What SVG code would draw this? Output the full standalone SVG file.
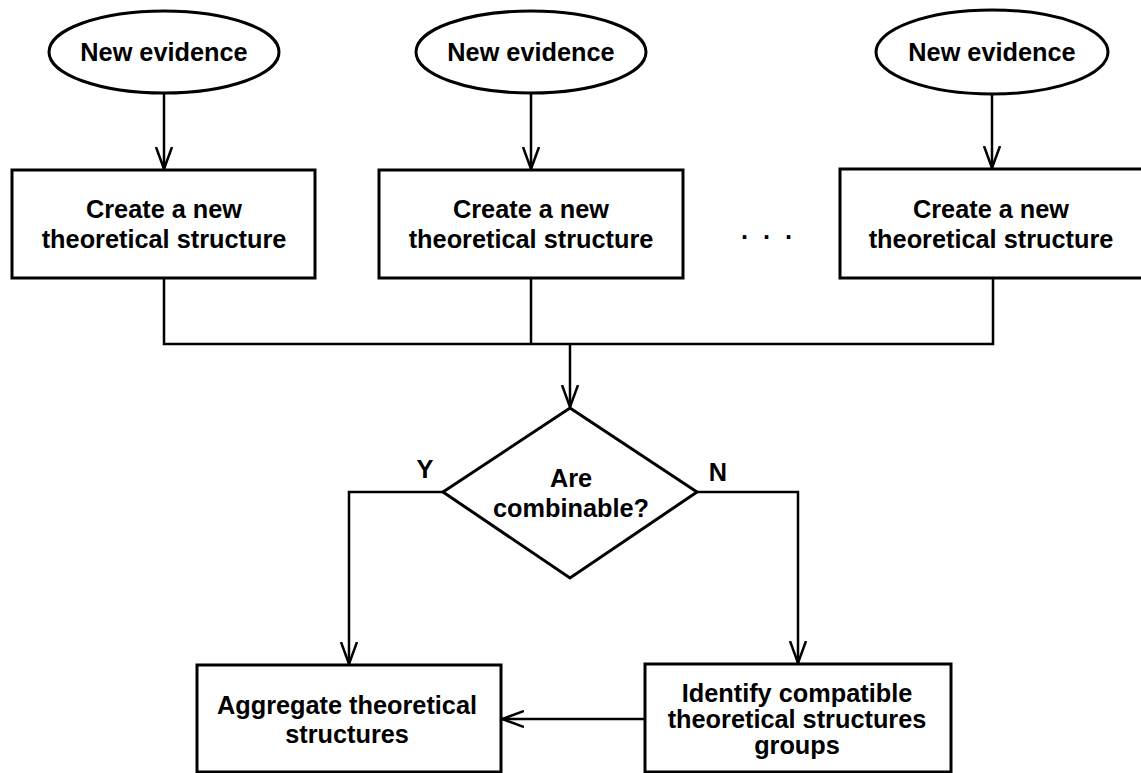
<svg xmlns="http://www.w3.org/2000/svg" width="1141" height="773" viewBox="0 0 1141 773">
  <style>
    .shape { fill: #ffffff; stroke: #000000; stroke-width: 3; }
    .wire { fill: none; stroke: #000000; stroke-width: 2.5; }
    .lbl { font-family: "Liberation Sans", Arial, sans-serif; font-weight: bold; font-size: 25.3px; fill: #000000; text-anchor: middle; dominant-baseline: central; }
  </style>
  <defs>
    <marker id="arrow" markerUnits="userSpaceOnUse" viewBox="0 0 24 18" refX="22" refY="9" markerWidth="24" markerHeight="18" orient="auto">
      <path d="M0,1 L22,9 L0,17" fill="none" stroke="#000000" stroke-width="2.5"/>
    </marker>
  </defs>
  <rect width="1141" height="773" fill="#ffffff"/>

  <!-- connectors -->
  <g id="connectors">
    <line class="wire" x1="164" y1="94" x2="164" y2="169" marker-end="url(#arrow)"/>
    <line class="wire" x1="531" y1="94" x2="531" y2="169" marker-end="url(#arrow)"/>
    <line class="wire" x1="992" y1="95" x2="992" y2="168" marker-end="url(#arrow)"/>
    <polyline class="wire" points="164,279 164,344 993,344 993,279"/>
    <line class="wire" x1="531" y1="279" x2="531" y2="344"/>
    <line class="wire" x1="570" y1="344" x2="570" y2="407" marker-end="url(#arrow)"/>
    <polyline class="wire" points="443,492 349,492 349,664" marker-end="url(#arrow)"/>
    <polyline class="wire" points="697,492 798,492 798,663" marker-end="url(#arrow)"/>
    <line class="wire" x1="645" y1="719" x2="502" y2="719" marker-end="url(#arrow)"/>
  </g>

  <g id="evidence-1">
    <ellipse class="shape" cx="164" cy="52" rx="115" ry="41"/>
    <text class="lbl" x="164" y="52">New evidence</text>
  </g>
  <g id="evidence-2">
    <ellipse class="shape" cx="531" cy="52" rx="115" ry="41"/>
    <text class="lbl" x="531" y="52">New evidence</text>
  </g>
  <g id="evidence-3">
    <ellipse class="shape" cx="992" cy="52" rx="116" ry="42"/>
    <text class="lbl" x="992" y="52">New evidence</text>
  </g>

  <g id="create-1">
    <rect class="shape" x="12" y="170" width="303" height="108"/>
    <text class="lbl" x="164" y="209">Create a new</text>
    <text class="lbl" x="164" y="239">theoretical structure</text>
  </g>
  <g id="create-2">
    <rect class="shape" x="379" y="170" width="304" height="108"/>
    <text class="lbl" x="531" y="209">Create a new</text>
    <text class="lbl" x="531" y="239">theoretical structure</text>
  </g>
  <g id="ellipsis">
    <text class="lbl" x="774" y="230" letter-spacing="15">...</text>
  </g>
  <g id="create-3">
    <rect class="shape" x="840" y="169" width="310" height="109"/>
    <text class="lbl" x="991" y="209">Create a new</text>
    <text class="lbl" x="991" y="239">theoretical structure</text>
  </g>

  <g id="decision">
    <polygon class="shape" points="570,408 697,492 570,578 443,492"/>
    <text class="lbl" x="571" y="478">Are</text>
    <text class="lbl" x="571" y="508">combinable?</text>
    <text class="lbl" x="425" y="469">Y</text>
    <text class="lbl" x="718" y="472">N</text>
  </g>

  <g id="aggregate">
    <rect class="shape" x="197" y="665" width="304" height="107"/>
    <text class="lbl" x="347" y="705">Aggregate theoretical</text>
    <text class="lbl" x="347" y="734">structures</text>
  </g>
  <g id="identify">
    <rect class="shape" x="645" y="664" width="306" height="108"/>
    <text class="lbl" x="797" y="693">Identify compatible</text>
    <text class="lbl" x="797" y="719">theoretical structures</text>
    <text class="lbl" x="797" y="745">groups</text>
  </g>
</svg>
